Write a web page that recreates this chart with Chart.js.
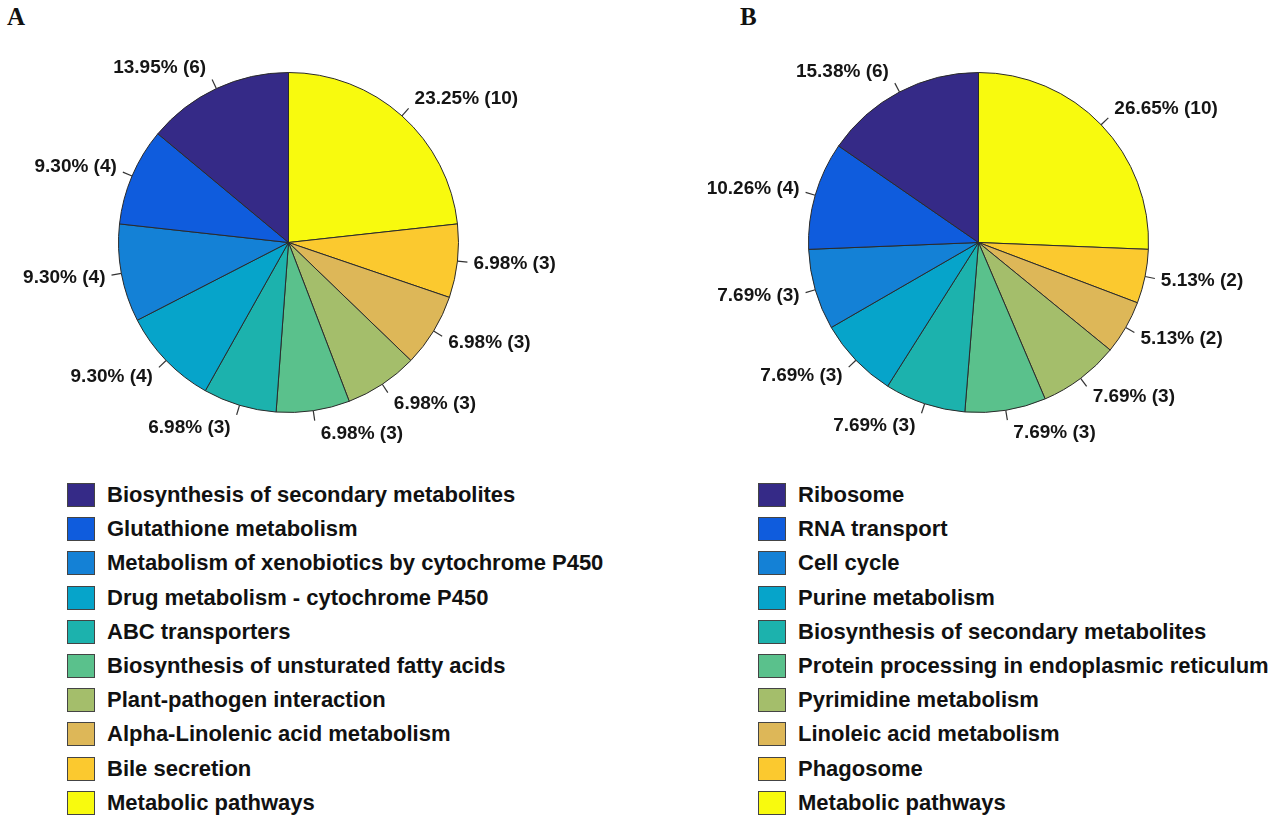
<!DOCTYPE html>
<html>
<head>
<meta charset="utf-8">
<script src="https://cdn.jsdelivr.net/npm/chart.js@4"></script>
<style>
  html, body { margin: 0; padding: 0; background: #ffffff; }
  #wrap { position: relative; width: 1270px; height: 817px; overflow: hidden; background: #fff; }
  canvas { position: absolute; top: 0; }
  .panel { position: absolute; font-family: 'Liberation Serif', 'Times New Roman', serif; font-weight: bold; font-size: 25px; color: #111; }
  .legend { position: absolute; top: 478px; }
  .row { height: 34.2px; display: flex; align-items: center; font-family: 'Liberation Sans', Arial, sans-serif; font-weight: bold; font-size: 22px; color: #111; white-space: nowrap; }
  .sw { width: 28px; height: 24px; border: 1px solid #444; margin-right: 12px; box-sizing: border-box; flex: none; }
</style>
</head>
<body>
<div id="wrap">
  <div class="panel" style="left:7px; top:3px;">A</div>
  <div class="panel" style="left:740px; top:3px;">B</div>
  <canvas id="chartA" width="635" height="450" style="left:0px;"></canvas>
  <canvas id="chartB" width="635" height="450" style="left:635px;"></canvas>
  <div class="legend" id="legendA" style="left:67px;"></div>
  <div class="legend" id="legendB" style="left:758px;"></div>
</div>
<script>
// ---- Data (legend order, top to bottom) ----
const categoriesA = [
  'Biosynthesis of secondary metabolites',
  'Glutathione metabolism',
  'Metabolism of xenobiotics by cytochrome P450',
  'Drug metabolism - cytochrome P450',
  'ABC transporters',
  'Biosynthesis of unsturated fatty acids',
  'Plant-pathogen interaction',
  'Alpha-Linolenic acid metabolism',
  'Bile secretion',
  'Metabolic pathways'
];
const countsA = [6, 4, 4, 4, 3, 3, 3, 3, 3, 10];
const labelsA = ['13.95% (6)', '9.30% (4)', '9.30% (4)', '9.30% (4)', '6.98% (3)', '6.98% (3)', '6.98% (3)', '6.98% (3)', '6.98% (3)', '23.25% (10)'];

const categoriesB = [
  'Ribosome',
  'RNA transport',
  'Cell cycle',
  'Purine metabolism',
  'Biosynthesis of secondary metabolites',
  'Protein processing in endoplasmic reticulum',
  'Pyrimidine metabolism',
  'Linoleic acid metabolism',
  'Phagosome',
  'Metabolic pathways'
];
const countsB = [6, 4, 3, 3, 3, 3, 3, 2, 2, 10];
const labelsB = ['15.38% (6)', '10.26% (4)', '7.69% (3)', '7.69% (3)', '7.69% (3)', '7.69% (3)', '7.69% (3)', '5.13% (2)', '5.13% (2)', '26.65% (10)'];

const palette = ['#352a87', '#0f5cdd', '#1481d6', '#06a4ca', '#1cb2ad', '#5ac18c', '#a4be6b', '#ddb758', '#fbc92f', '#f8fa0e'];

// ---- Callout label plugin ----
const calloutPlugin = {
  id: 'callouts',
  afterDatasetsDraw(chart) {
    const ctx = chart.ctx;
    const meta = chart.getDatasetMeta(0);
    const texts = chart.data.datasets[0].callouts;
    ctx.save();
    ctx.font = "bold 19px 'Liberation Sans', Arial, sans-serif";
    ctx.fillStyle = '#151515';
    ctx.strokeStyle = '#333';
    ctx.lineWidth = 1.2;
    ctx.textBaseline = 'middle';
    meta.data.forEach((arc, i) => {
      const p = arc.getProps(['x', 'y', 'startAngle', 'endAngle', 'outerRadius'], true);
      const mid = (p.startAngle + p.endAngle) / 2;
      const dx = Math.cos(mid), dy = Math.sin(mid);
      const r = p.outerRadius;
      const x0 = p.x + dx * r, y0 = p.y + dy * r;
      const x1 = p.x + dx * (r + 10), y1 = p.y + dy * (r + 10);
      ctx.beginPath();
      ctx.moveTo(x0, y0);
      ctx.lineTo(x1, y1);
      ctx.stroke();
      const right = dx >= 0;
      ctx.textAlign = right ? 'left' : 'right';
      const tx = x1 + (right ? 6 : -6);
      const ty = y1 + 13 * dy;
      ctx.fillText(texts[i], tx, ty);
    });
    ctx.restore();
  }
};

function makePie(id, cats, counts, labels, padding) {
  const rev = a => a.slice().reverse();
  return new Chart(document.getElementById(id), {
    type: 'pie',
    data: {
      labels: rev(cats),
      datasets: [{
        data: rev(counts),
        backgroundColor: rev(palette),
        borderColor: '#2a2a2a',
        borderWidth: 1,
        callouts: rev(labels)
      }]
    },
    options: {
      responsive: false,
      animation: false,
      layout: { padding: padding },
      plugins: { legend: { display: false }, tooltip: { enabled: false } }
    },
    plugins: [calloutPlugin]
  });
}

makePie('chartA', categoriesA, countsA, labelsA, { left: 118, top: 72, right: 176, bottom: 37 });
makePie('chartB', categoriesB, countsB, labelsB, { left: 173, top: 72, right: 121, bottom: 37 });

function buildLegend(id, cats) {
  const el = document.getElementById(id);
  cats.forEach((c, i) => {
    const row = document.createElement('div');
    row.className = 'row';
    const sw = document.createElement('div');
    sw.className = 'sw';
    sw.style.background = palette[i];
    const t = document.createElement('span');
    t.textContent = c;
    row.appendChild(sw);
    row.appendChild(t);
    el.appendChild(row);
  });
}
buildLegend('legendA', categoriesA);
buildLegend('legendB', categoriesB);
</script>
</body>
</html>
